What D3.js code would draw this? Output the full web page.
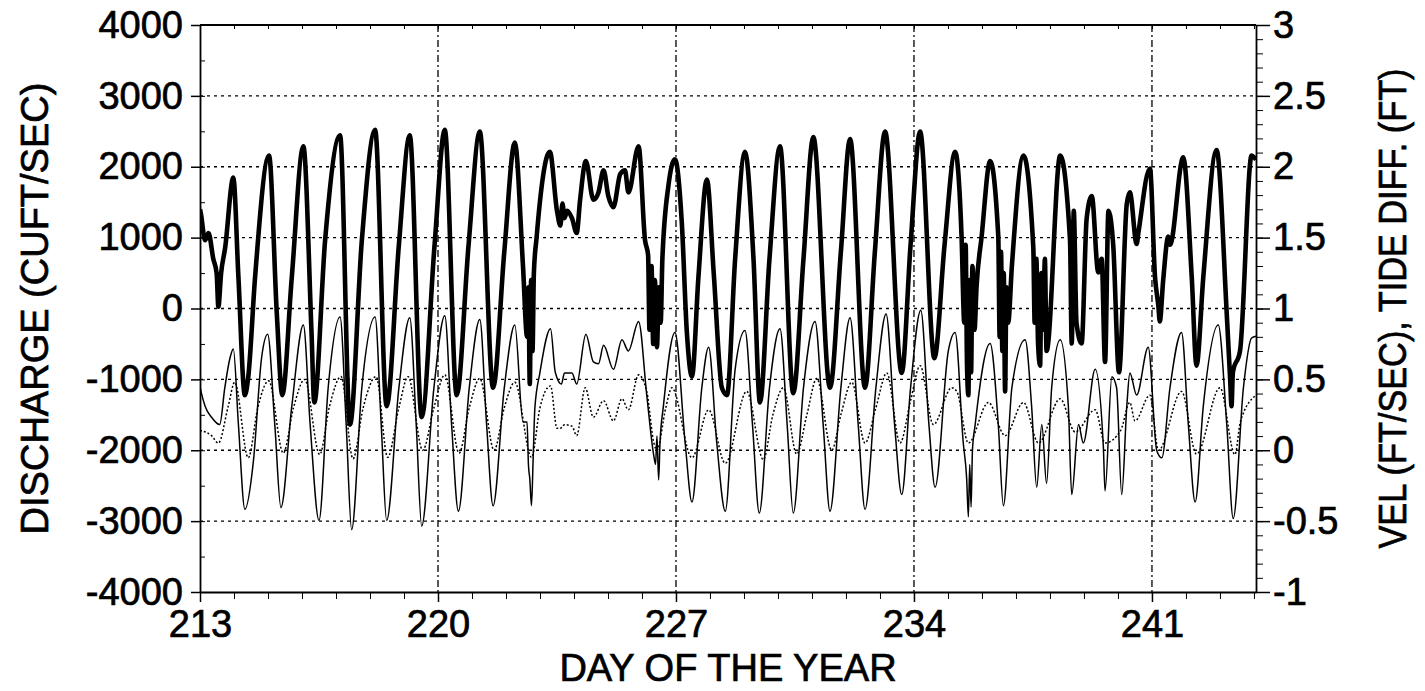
<!DOCTYPE html>
<html>
<head>
<meta charset="utf-8">
<script src="https://cdn.jsdelivr.net/npm/d3@7"></script>
<style>
  body { margin: 0; background: #fff; }
  svg text { font-family: "Liberation Sans", Arial, sans-serif; fill: #000; stroke: #000; stroke-width: 0.7px; }
</style>
</head>
<body>
<script>
// ---- data ----
var dayTicks = [213, 220, 227, 234, 241];
var leftTicks = [-4000, -3000, -2000, -1000, 0, 1000, 2000, 3000, 4000];
var rightTicks = [-1, -0.5, 0, 0.5, 1, 1.5, 2, 2.5, 3];

// discharge, cuft/sec  [day, value]
var discharge = [[213.00,1400],[213.03,1326],[213.15,962],[213.25,1066],[213.39,702],[213.49,494],[213.54,26],[213.62,494],[213.74,858],[213.98,1846],[214.13,442],[214.32,-1222],[214.42,-962],[214.62,442],[215.03,2158],[215.26,-78],[215.42,-1222],[215.70,442],[216.04,2288],[216.28,-338],[216.36,-1326],[216.68,962],[217.12,2444],[217.41,-1638],[217.76,962],[218.15,2522],[218.49,-1378],[218.85,900],[219.17,2444],[219.52,-1534],[219.90,900],[220.20,2522],[220.55,-1222],[220.90,900],[221.23,2496],[221.62,-1118],[221.95,800],[222.26,2340],[222.50,600],[222.62,-400],[222.66,300],[222.70,-1066],[222.74,400],[222.78,-600],[222.82,500],[222.90,1000],[223.29,2210],[223.50,1378],[223.60,1170],[223.66,1482],[223.72,1274],[223.80,1378],[223.94,1274],[224.08,1066],[224.18,1534],[224.35,2080],[224.57,1534],[224.72,1638],[224.87,1950],[225.01,1586],[225.16,1430],[225.36,1898],[225.50,1950],[225.60,1638],[225.90,2288],[226.09,962],[226.18,754],[226.22,-300],[226.28,600],[226.33,-500],[226.38,400],[226.44,-546],[226.50,300],[226.55,-200],[226.60,700],[226.78,1742],[226.97,2106],[227.17,1222],[227.32,-338],[227.47,-962],[227.66,442],[227.91,1820],[228.11,500],[228.35,-1118],[228.50,-1222],[228.74,700],[229.03,2210],[229.28,700],[229.47,-1326],[229.75,700],[230.06,2288],[230.45,-1196],[230.75,700],[231.04,2418],[231.53,-1118],[231.85,800],[232.12,2392],[232.56,-1118],[232.85,800],[233.15,2496],[233.64,-910],[233.90,900],[234.18,2496],[234.60,-700],[234.90,900],[235.21,2210],[235.40,1014],[235.48,-200],[235.52,900],[235.56,-800],[235.60,-1222],[235.64,400],[235.68,-900],[235.72,600],[235.78,-300],[235.84,300],[235.99,1014],[236.24,2080],[236.48,1014],[236.52,-400],[236.56,800],[236.60,-600],[236.64,500],[236.68,-1170],[236.72,300],[236.77,-200],[236.88,600],[237.22,2158],[237.51,858],[237.55,-200],[237.60,700],[237.65,-500],[237.71,-806],[237.75,500],[237.80,-300],[237.85,700],[237.90,-598],[238.30,2158],[238.59,962],[238.64,-494],[238.70,1378],[238.78,-200],[238.93,-494],[239.08,1274],[239.23,1586],[239.42,510],[239.52,700],[239.62,-754],[239.72,1378],[239.86,900],[240.03,-900],[240.26,1482],[240.35,1638],[240.55,910],[240.60,1066],[240.94,1976],[241.09,442],[241.19,26],[241.23,-182],[241.33,400],[241.48,1014],[241.53,900],[241.92,2132],[242.17,442],[242.31,-806],[242.51,442],[242.90,2236],[243.20,-78],[243.30,-1000],[243.34,-1378],[243.38,-900],[243.59,-598],[243.93,2158],[244.06,2100]];

// velocity, ft/sec  [day, value]
var velocity = [[213.00,0.45],[213.03,0.415],[213.15,0.311],[213.34,0.233],[213.58,0.181],[213.73,0.441],[213.88,0.649],[213.98,0.714],[214.13,0.181],[214.32,-0.417],[214.57,-0.079],[214.81,0.649],[214.99,0.818],[215.20,0.181],[215.38,-0.404],[215.70,0.311],[216.04,0.883],[216.24,0.181],[216.50,-0.495],[216.77,0.441],[217.12,0.94],[217.30,0.181],[217.46,-0.56],[217.76,0.441],[218.15,0.94],[218.33,0.181],[218.49,-0.495],[218.85,0.44],[219.17,0.935],[219.36,0.181],[219.52,-0.534],[219.88,0.44],[220.20,0.948],[220.40,0.181],[220.60,-0.43],[220.92,0.44],[221.23,0.922],[221.43,0.181],[221.62,-0.391],[221.95,0.44],[222.26,0.883],[222.50,0.2],[222.62,0.2],[222.66,-0.1],[222.70,-0.2],[222.75,-0.391],[222.80,-0.05],[222.85,0.3],[223.00,0.55],[223.31,0.857],[223.45,0.55],[223.63,0.467],[223.72,0.545],[223.94,0.545],[224.08,0.467],[224.35,0.818],[224.57,0.623],[224.72,0.61],[224.87,0.74],[225.16,0.571],[225.41,0.779],[225.60,0.701],[225.90,0.909],[226.14,0.389],[226.34,-0.027],[226.40,-0.1],[226.44,0.1],[226.49,-0.209],[226.53,0.05],[226.63,0.311],[226.97,0.831],[227.27,0.051],[227.47,-0.365],[227.76,0.441],[227.96,0.727],[228.20,0.051],[228.45,-0.43],[228.74,0.571],[229.03,0.844],[229.25,0.181],[229.45,-0.443],[229.75,0.44],[230.06,0.857],[230.27,0.181],[230.45,-0.443],[230.75,0.44],[231.09,0.909],[231.33,0.181],[231.53,-0.43],[231.85,0.44],[232.12,0.935],[232.36,0.181],[232.56,-0.417],[232.88,0.44],[233.18,0.961],[233.43,0.181],[233.64,-0.313],[233.90,0.44],[234.20,0.987],[234.44,0.181],[234.62,-0.261],[235.01,0.701],[235.21,0.831],[235.45,0.051],[235.55,-0.2],[235.60,-0.469],[235.64,-0.1],[235.68,-0.4],[235.72,0.0],[235.80,0.181],[236.24,0.753],[236.48,0.181],[236.63,-0.391],[236.88,0.441],[237.27,0.779],[237.46,0.311],[237.61,-0.261],[237.76,0.181],[237.90,-0.235],[238.05,0.441],[238.30,0.779],[238.54,0.311],[238.64,-0.313],[238.84,0.181],[238.98,0.051],[239.33,0.571],[239.57,0.025],[239.62,-0.287],[239.82,0.519],[239.96,0.441],[240.11,-0.313],[240.26,0.311],[240.35,0.545],[240.55,0.389],[240.89,0.727],[241.14,-0.001],[241.29,-0.053],[241.53,0.441],[241.87,0.831],[242.07,0.181],[242.27,-0.365],[242.51,0.311],[242.95,0.883],[243.20,0.181],[243.39,-0.482],[243.69,0.441],[243.93,0.792],[244.06,0.805]];

// tide difference, ft  [day, value]
var tideDiff = [[213.00,0.14],[213.34,0.103],[213.54,0.051],[213.83,0.311],[214.02,0.48],[214.42,-0.053],[214.70,0.30],[215.02,0.49],[215.45,-0.02],[215.75,0.30],[216.08,0.50],[216.52,-0.03],[216.80,0.30],[217.15,0.52],[217.50,-0.06],[217.80,0.30],[218.18,0.52],[218.52,-0.05],[218.85,0.30],[219.12,0.519],[219.55,0.0],[219.88,0.30],[220.20,0.532],[220.62,-0.02],[220.92,0.30],[221.23,0.506],[221.65,0.0],[221.95,0.30],[222.26,0.48],[222.75,-0.05],[223.00,0.30],[223.31,0.454],[223.50,0.155],[223.60,0.155],[223.72,0.18],[223.94,0.17],[224.08,0.103],[224.33,0.441],[224.57,0.233],[224.87,0.35],[225.16,0.207],[225.41,0.363],[225.60,0.285],[225.90,0.532],[226.14,0.415],[226.35,0.05],[226.44,0.0],[226.70,0.30],[226.88,0.441],[227.47,-0.053],[227.96,0.285],[228.45,-0.092],[229.08,0.415],[229.57,-0.066],[229.85,0.25],[230.16,0.441],[230.55,-0.027],[230.85,0.25],[231.14,0.506],[231.58,0.0],[231.85,0.25],[232.17,0.48],[232.56,0.051],[232.88,0.30],[233.20,0.545],[233.59,0.051],[233.90,0.35],[234.18,0.597],[234.57,0.181],[235.11,0.441],[235.26,0.415],[235.60,0.051],[236.19,0.337],[236.68,0.103],[237.22,0.337],[237.66,0.051],[238.30,0.363],[238.74,0.129],[239.33,0.285],[239.62,0.051],[240.08,0.14],[240.35,0.337],[240.50,0.207],[240.94,0.389],[241.19,0.0],[241.87,0.415],[242.31,-0.027],[243.00,0.441],[243.44,-0.03],[243.60,0.20],[244.06,0.389]];

var width = 1425, height = 691;
var plotL = 200, plotR = 1256, plotT = 25, plotB = 592;
var fontSize = 38;

var svg = d3.select("body").append("svg")
  .attr("width", width)
  .attr("height", height);

var x = d3.scaleLinear().domain([213, 244.06]).range([plotL, plotR]);
var yL = d3.scaleLinear().domain([-4000, 4000]).range([plotB, plotT]);
var yR = d3.scaleLinear().domain([-1, 3]).range([plotB, plotT]);

// grid
svg.append("g").selectAll("line")
  .data(leftTicks.slice(1, -1))
  .enter().append("line")
  .attr("x1", plotL).attr("x2", plotR)
  .attr("y1", d => yL(d)).attr("y2", d => yL(d))
  .attr("stroke", "#000").attr("stroke-width", 1.3)
  .attr("stroke-dasharray", "3,4");

svg.append("g").selectAll("line")
  .data(dayTicks.slice(1))
  .enter().append("line")
  .attr("x1", d => x(d)).attr("x2", d => x(d))
  .attr("y1", plotT).attr("y2", plotB)
  .attr("stroke", "#000").attr("stroke-width", 1.3)
  .attr("stroke-dasharray", "7,3,2,3");

// lines
svg.append("clipPath").attr("id", "plot")
  .append("rect").attr("x", plotL).attr("y", plotT)
  .attr("width", plotR - plotL).attr("height", plotB - plotT);

var lines = svg.append("g").attr("clip-path", "url(#plot)");

var lineL = d3.line().x(d => x(d[0])).y(d => yL(d[1])).curve(d3.curveMonotoneX);
var lineR = d3.line().x(d => x(d[0])).y(d => yR(d[1])).curve(d3.curveMonotoneX);

lines.append("path")
  .datum(tideDiff)
  .attr("d", lineR)
  .attr("fill", "none").attr("stroke", "#000")
  .attr("stroke-width", 1.5).attr("stroke-dasharray", "2,2");

lines.append("path")
  .datum(velocity)
  .attr("d", lineR)
  .attr("fill", "none").attr("stroke", "#000")
  .attr("stroke-width", 1.5);

lines.append("path")
  .datum(discharge)
  .attr("d", lineL)
  .attr("fill", "none").attr("stroke", "#000")
  .attr("stroke-width", 4.6).attr("stroke-linejoin", "round");

// axes
function styleAxis(g) {
  g.select(".domain").attr("stroke-width", 1.8);
  g.selectAll(".tick line").attr("stroke-width", 1.5);
  g.selectAll("text").style("font-size", fontSize + "px")
    .style("font-family", "'Liberation Sans', Arial, sans-serif");
}

// minor ticks
svg.append("g").attr("transform", "translate(" + plotL + ",0)")
  .call(d3.axisRight(yL).ticks(16).tickSize(5).tickFormat(""))
  .call(g => g.select(".domain").remove());
svg.append("g").attr("transform", "translate(" + plotR + ",0)")
  .call(d3.axisRight(yR).ticks(40).tickSize(7).tickFormat(""))
  .call(g => g.select(".domain").remove());
svg.append("g").attr("transform", "translate(0," + plotB + ")")
  .call(d3.axisBottom(x).tickValues(d3.range(213, 245)).tickSize(7).tickFormat(""))
  .call(g => g.select(".domain").remove());
svg.append("g").attr("transform", "translate(0," + plotT + ")")
  .call(d3.axisBottom(x).tickValues(d3.range(213, 245)).tickSize(4).tickFormat(""))
  .call(g => g.select(".domain").remove());

svg.append("g").attr("transform", "translate(" + plotL + ",0)")
  .call(d3.axisLeft(yL).tickValues(leftTicks).tickSize(9).tickPadding(8).tickSizeOuter(0)
    .tickFormat(d => String(d)))
  .call(styleAxis);

svg.append("g").attr("transform", "translate(" + plotR + ",0)")
  .call(d3.axisRight(yR).tickValues(rightTicks).tickSize(14).tickPadding(3).tickSizeOuter(0)
    .tickFormat(d => String(d)))
  .call(styleAxis);

svg.append("g").attr("transform", "translate(0," + plotB + ")")
  .call(d3.axisBottom(x).tickValues(dayTicks).tickSize(10).tickPadding(8).tickSizeOuter(0)
    .tickFormat(d => String(d)))
  .call(styleAxis);

svg.append("line")
  .attr("x1", plotL).attr("x2", plotR).attr("y1", plotT).attr("y2", plotT)
  .attr("stroke", "#000").attr("stroke-width", 1.8);

// titles
svg.append("text")
  .attr("transform", "translate(48," + ((plotT + plotB) / 2) + ") rotate(-90)")
  .attr("text-anchor", "middle")
  .style("font-size", fontSize + "px")
  .text("DISCHARGE (CUFT/SEC)");

svg.append("text")
  .attr("transform", "translate(1406," + ((plotT + plotB) / 2) + ") rotate(-90)")
  .attr("text-anchor", "middle")
  .attr("textLength", 480).attr("lengthAdjust", "spacingAndGlyphs")
  .style("font-size", fontSize + "px")
  .text("VEL (FT/SEC), TIDE DIFF. (FT)");

svg.append("text")
  .attr("x", (plotL + plotR) / 2).attr("y", 681)
  .attr("text-anchor", "middle")
  .style("font-size", fontSize + "px")
  .text("DAY OF THE YEAR");
</script>
</body>
</html>
